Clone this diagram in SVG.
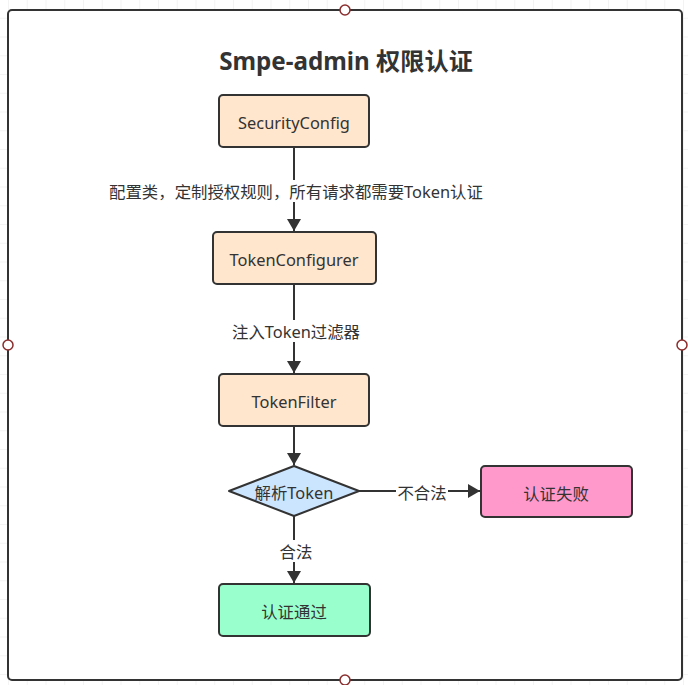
<svg xmlns="http://www.w3.org/2000/svg" width="688" height="685" viewBox="0 0 688 685">
<defs>
<pattern id="grid" x="8" y="-1" width="18.75" height="18.75" patternUnits="userSpaceOnUse">
<path d="M0 0V18.75M0 0H18.75" fill="none" stroke="#e8e8e8" stroke-width="1"/>
</pattern>
<marker id="arr" viewBox="0 0 12 14" refX="12" refY="7" markerWidth="12" markerHeight="14" markerUnits="userSpaceOnUse" orient="auto">
<path d="M0 0L12 7L0 14Z" fill="#333"/>
</marker>
<style>
.t{font-family:"Noto Sans","Noto Sans CJK SC",sans-serif;font-size:16.4px;fill:#333;text-anchor:middle;dominant-baseline:central}
.n{stroke:#333;stroke-width:2}
.e{fill:none;stroke:#333;stroke-width:2}
.lb{fill:#fff}
.h{fill:#fff;stroke:#8b2c2c;stroke-width:1.5}
</style>
</defs>
<rect width="688" height="685" fill="#fff"/>
<rect width="688" height="685" fill="url(#grid)"/>
<g id="frame">
<rect x="8" y="10" width="674" height="670" rx="4" fill="#fff" stroke="#333" stroke-width="2"/>
<circle class="h" cx="345" cy="10" r="5"/>
<circle class="h" cx="8" cy="345" r="5"/>
<circle class="h" cx="682" cy="345" r="5"/>
<circle class="h" cx="345" cy="680" r="5"/>
</g>
<g id="title">
<text x="346" y="60" class="t" style="font-size:24.2px;font-weight:bold">Smpe-admin 权限认证</text>
</g>
<g id="edges">
<line class="e" x1="294" y1="147" x2="294" y2="231" marker-end="url(#arr)"/>
<rect class="lb" x="108" y="180" width="377" height="22"/>
<text x="296" y="191" class="t">配置类，定制授权规则，所有请求都需要Token认证</text>
<line class="e" x1="294" y1="284" x2="294" y2="373" marker-end="url(#arr)"/>
<rect class="lb" x="230" y="320" width="132" height="22"/>
<text x="296" y="331" class="t">注入Token过滤器</text>
<line class="e" x1="294" y1="426" x2="294" y2="465" marker-end="url(#arr)"/>
<line class="e" x1="359" y1="491" x2="480" y2="491" marker-end="url(#arr)"/>
<rect class="lb" x="396" y="480" width="52" height="22"/>
<text x="422" y="492" class="t">不合法</text>
<line class="e" x1="294" y1="516" x2="294" y2="583" marker-end="url(#arr)"/>
<rect class="lb" x="279" y="540" width="34" height="22"/>
<text x="296" y="551" class="t">合法</text>
</g>
<g id="securityConfig">
<rect class="n" x="219" y="95" width="150" height="52" rx="4" fill="#ffe6cc"/>
<text x="294" y="122" class="t">SecurityConfig</text>
</g>
<g id="tokenConfigurer">
<rect class="n" x="213" y="232" width="163" height="52" rx="4" fill="#ffe6cc"/>
<text x="294" y="259" class="t">TokenConfigurer</text>
</g>
<g id="tokenFilter">
<rect class="n" x="219" y="374" width="150" height="52" rx="4" fill="#ffe6cc"/>
<text x="294" y="401" class="t">TokenFilter</text>
</g>
<g id="parseToken">
<path class="n" d="M294 466L359 491L294 516L229 491Z" fill="#cce5ff" stroke-linejoin="round"/>
<text x="294" y="492" class="t">解析Token</text>
</g>
<g id="authFail">
<rect class="n" x="481" y="466" width="151" height="51" rx="4" fill="#ff99cc"/>
<text x="556" y="493" class="t">认证失败</text>
</g>
<g id="authPass">
<rect class="n" x="219" y="584" width="151" height="52" rx="4" fill="#99ffcc"/>
<text x="294" y="611" class="t">认证通过</text>
</g>
</svg>
